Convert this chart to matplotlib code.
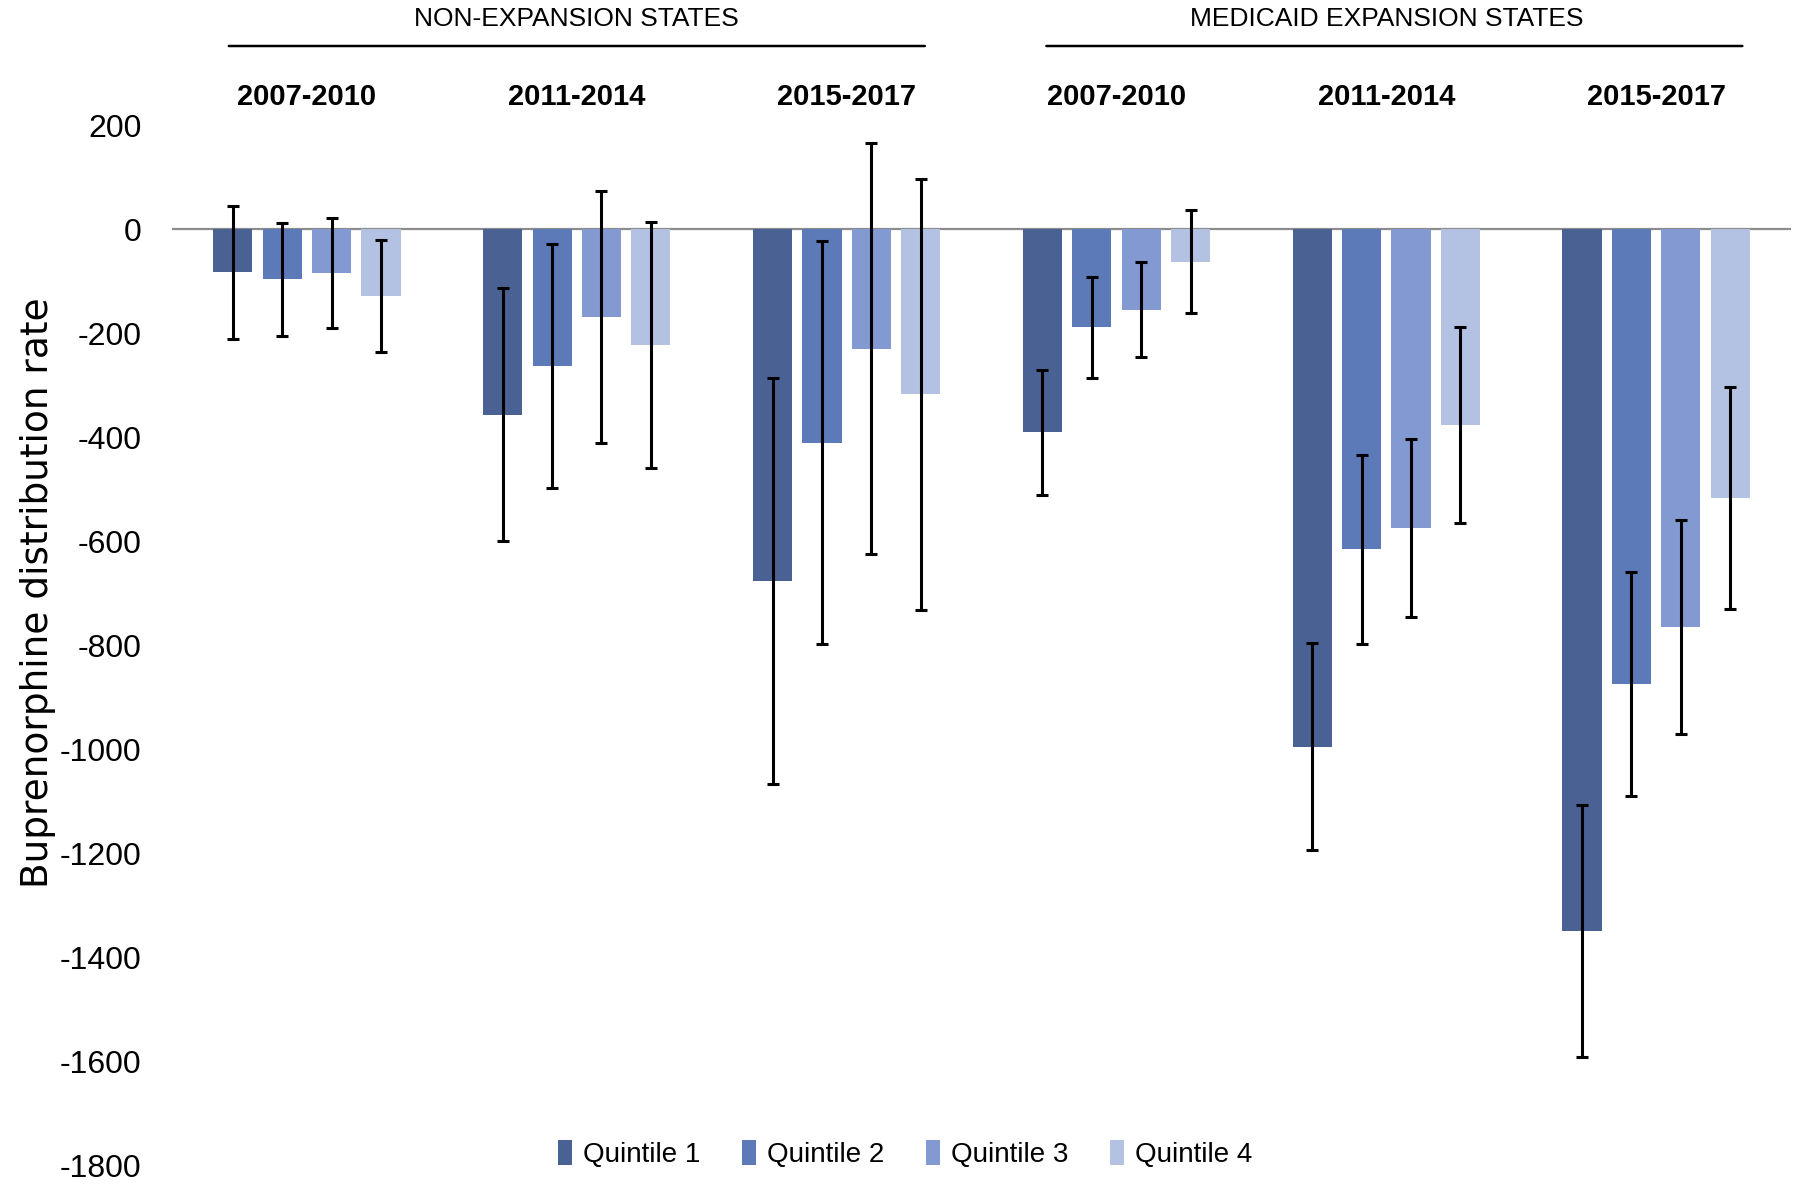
import numpy as np
import matplotlib
matplotlib.use("Agg")
import matplotlib.pyplot as plt

periods = ["2007-2010", "2011-2014", "2015-2017", "2007-2010", "2011-2014", "2015-2017"]
groups = ["NON-EXPANSION STATES", "MEDICAID EXPANSION STATES"]
quintiles = ["Quintile 1", "Quintile 2", "Quintile 3", "Quintile 4"]

# mean change per period, one list per quintile
q1 = [-83, -357, -677, -391, -996, -1350]
q2 = [-97, -263, -411, -189, -616, -875]
q3 = [-85, -169, -230, -155, -575, -766]
q4 = [-129, -223, -318, -63, -377, -517]

# half-width of the confidence interval
q1_err = [128, 243, 391, 120, 199, 243]
q2_err = [108, 235, 388, 97, 182, 216]
q3_err = [106, 243, 395, 91, 172, 206]
q4_err = [108, 237, 415, 99, 189, 214]

colors = ["#4A6194", "#5B7AB7", "#8399D1", "#B3C1E3"]

plt.rcParams['font.family'] = ['Liberation Sans Narrow', 'Liberation Sans', 'DejaVu Sans']
plt.rcParams['axes.unicode_minus'] = False

fig = plt.figure(figsize=(18, 11.86), dpi=100)
ax = fig.add_axes([0.0956, 0.0177, 0.8994, 0.8769])

x = np.arange(len(periods))
step = 0.183
width = 0.145
means = [q1, q2, q3, q4]
errs = [q1_err, q2_err, q3_err, q4_err]
for i in range(4):
    pos = x + (i - 1.5) * step
    ax.bar(pos, means[i], width, color=colors[i], label=quintiles[i], zorder=2)
    ax.errorbar(pos, means[i], yerr=errs[i], fmt='none', ecolor='black',
                elinewidth=2.2, capsize=4.5, capthick=2.2, zorder=3)

ax.axhline(0, color='#8c8c8c', lw=1.6, zorder=1)
ax.set_xlim(-0.5, 5.5)
ax.set_ylim(-1800, 200)
ax.set_yticks(np.arange(-1800, 201, 200))
ax.tick_params(axis='y', length=0, labelsize=23, pad=22)
ax.set_xticks([])
for s in ax.spines.values():
    s.set_visible(False)

fig.text(0.021, 0.5, "Buprenorphine distribution rate", rotation=90,
         fontsize=27, family=['DejaVu Sans'], va='center', ha='center')

# period labels above the plot
for xi, p in zip(x, periods):
    ax.annotate(p, xy=(xi, 1), xycoords=('data', 'figure fraction'),
                xytext=(0, -70), textcoords='offset points',
                ha='center', va='center', fontsize=21, fontweight='bold')

# group headers with underline
for gx, (lo, hi), g in zip([1, 4], [(-0.3, 2.3), (2.73, 5.33)], groups):
    ax.annotate(g, xy=(gx, 1), xycoords=('data', 'figure fraction'),
                xytext=(0, -14), textcoords='offset points',
                ha='center', va='center', fontsize=19)
    ax.annotate('', xy=(lo, 1 - 46 / 1186), xytext=(hi, 1 - 46 / 1186),
                xycoords=('data', 'figure fraction'),
                arrowprops=dict(arrowstyle='-', lw=1.8, color='black'))

ax.legend(loc='center', bbox_to_anchor=(0.503, 0.027), bbox_transform=fig.transFigure,
          ncol=4, frameon=False, fontsize=20, handlelength=0.5, handleheight=1.0,
          handletextpad=0.4, columnspacing=1.5)

fig.savefig("out.png", dpi=100)
